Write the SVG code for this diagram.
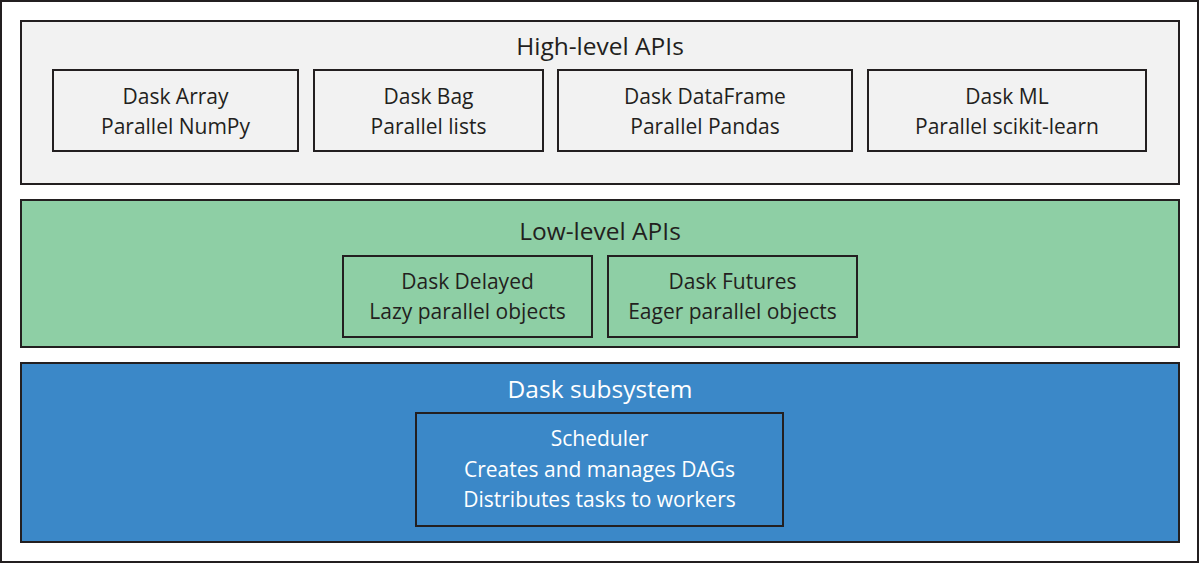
<svg xmlns="http://www.w3.org/2000/svg" width="1200" height="564" viewBox="0 0 1200 564">
<style>
.box{stroke:#231f20;stroke-width:2}
.t{font-family:"Open Sans","Noto Sans",sans-serif;font-size:21px;fill:#231f20;text-anchor:middle}
.h{font-size:24.5px}
.w{fill:#ffffff}
</style>
<rect x="1" y="1" width="1197" height="561" fill="#ffffff" stroke="#231f20" stroke-width="2"/>
<g id="high-level">
<rect class="box" x="21" y="21" width="1158" height="163" fill="#f2f2f2"/>
<text class="t h" x="600" y="55">High-level APIs</text>
</g>
<g id="dask-array">
<rect class="box" x="53" y="70" width="245" height="81" fill="#f2f2f2"/>
<text class="t" x="175.5" y="104">Dask Array</text>
<text class="t" x="175.5" y="134">Parallel NumPy</text>
</g>
<g id="dask-bag">
<rect class="box" x="314" y="70" width="229" height="81" fill="#f2f2f2"/>
<text class="t" x="428.5" y="104">Dask Bag</text>
<text class="t" x="428.5" y="134">Parallel lists</text>
</g>
<g id="dask-dataframe">
<rect class="box" x="558" y="70" width="294" height="81" fill="#f2f2f2"/>
<text class="t" x="705" y="104">Dask DataFrame</text>
<text class="t" x="705" y="134">Parallel Pandas</text>
</g>
<g id="dask-ml">
<rect class="box" x="868" y="70" width="278" height="81" fill="#f2f2f2"/>
<text class="t" x="1007" y="104">Dask ML</text>
<text class="t" x="1007" y="134">Parallel scikit-learn</text>
</g>
<g id="low-level">
<rect class="box" x="21" y="200" width="1158" height="147" fill="#8ecfa5"/>
<text class="t h" x="600" y="240">Low-level APIs</text>
</g>
<g id="dask-delayed">
<rect class="box" x="343" y="256" width="249" height="81" fill="#8ecfa5"/>
<text class="t" x="467.5" y="289">Dask Delayed</text>
<text class="t" x="467.5" y="319">Lazy parallel objects</text>
</g>
<g id="dask-futures">
<rect class="box" x="608" y="256" width="249" height="81" fill="#8ecfa5"/>
<text class="t" x="732.5" y="289">Dask Futures</text>
<text class="t" x="732.5" y="319">Eager parallel objects</text>
</g>
<g id="subsystem">
<rect class="box" x="21" y="363" width="1158" height="179" fill="#3b88c8"/>
<text class="t h w" x="600" y="398">Dask subsystem</text>
</g>
<g id="scheduler">
<rect class="box" x="416" y="413" width="367" height="113" fill="#3b88c8"/>
<text class="t w" x="599.5" y="446">Scheduler</text>
<text class="t w" x="599.5" y="477">Creates and manages DAGs</text>
<text class="t w" x="599.5" y="507">Distributes tasks to workers</text>
</g>
<g id="connectors"></g>
</svg>
